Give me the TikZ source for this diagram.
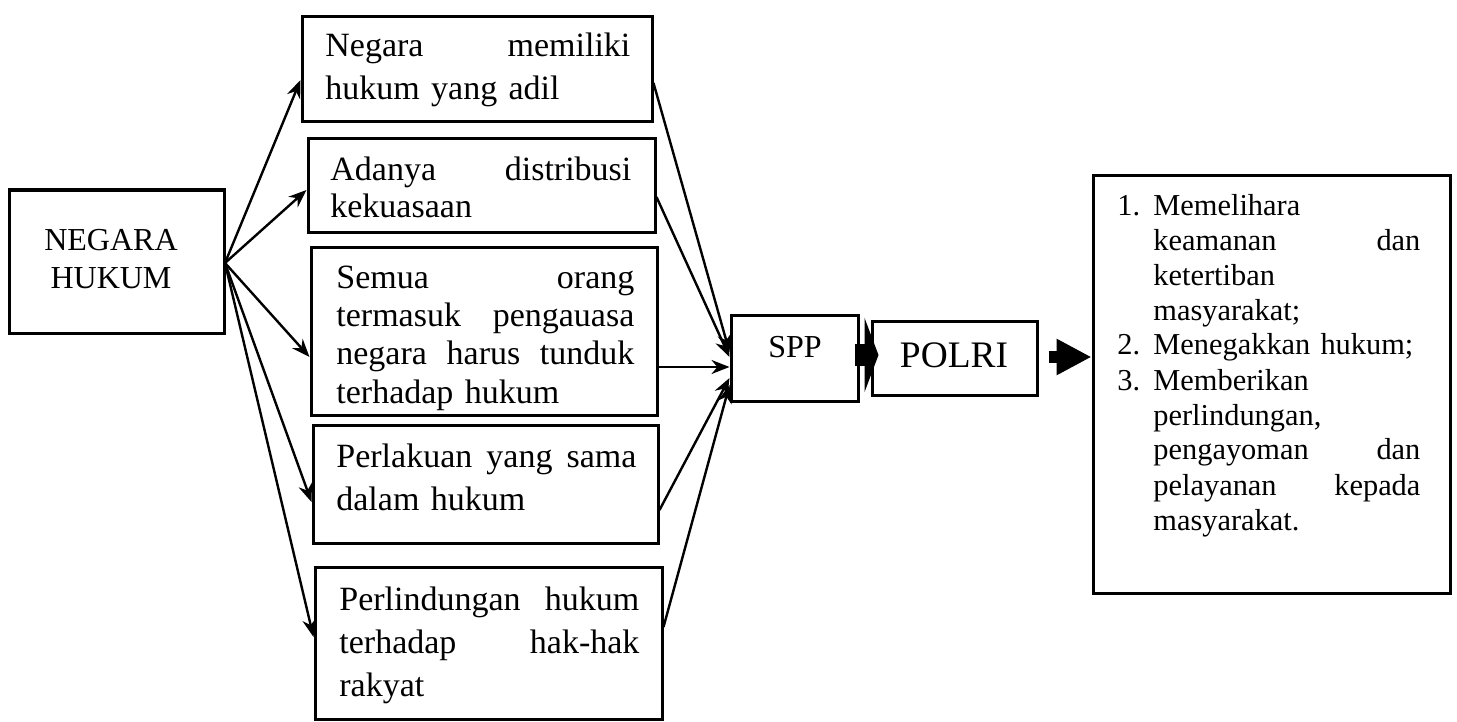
\documentclass[tikz,border=0pt]{standalone}
\usepackage{fontspec}
\setmainfont{Liberation Serif}
\usetikzlibrary{arrows.meta,fit,calc}
\begin{document}
\begin{tikzpicture}[x=0.5pt,y=-0.5pt,
  box/.style={draw, line width=1.5pt, inner sep=0pt, fit={#1}},
  txt/.style={inner sep=0pt, anchor=base west, align=left, font=\fontsize{17}{#1}\selectfont},
  lbl/.style={inner sep=0pt, anchor=base},
  conn/.style={line width=1.2pt, -{Stealth[length=9pt,width=7pt]}}]
\useasboundingbox[fill=white] (0,0) rectangle (1457,722);

% boxes
\node[box={(9,190)(224,333)}] (nh) {};
\node[box={(302,17)(652,122)}] (b1) {};
\node[box={(308,139)(655,232)}] (b2) {};
\node[box={(311,247)(657,415)}] (b3) {};
\node[box={(313,425)(658,543)}] (b4) {};
\node[box={(315,567)(662,719)}] (b5) {};
\node[box={(731,315)(858,401)}] (spp) {};
\node[box={(872,321)(1037,395)}] (polri) {};
\node[box={(1093,176)(1450,593)}] (rb) {};

% texts
\node[lbl, font=\fontsize{16}{19}\selectfont] (nht1) at (111,250) {NEGARA};
\node[lbl, font=\fontsize{16}{19}\selectfont] (nht2) at (111,288) {HUKUM};
\node[txt=21.5pt, text width=152.5pt] (t1) at (325,57) {Negara \hfill memiliki\\ hukum yang adil};
\node[txt=19pt, text width=150.5pt] (t2) at (330,180) {Adanya \hfill distribusi\\ kekuasaan};
\node[txt=19.2pt, text width=149pt] (t3) at (336,288) {Semua \hfill orang\\ termasuk \hfill pengauasa\\ negara \hfill harus \hfill tunduk\\ terhadap hukum};
\node[txt=21.5pt, text width=150pt] (t4) at (336,467) {Perlakuan \hfill yang \hfill sama\\ dalam hukum};
\node[txt=21.7pt, text width=150pt] (t5) at (339,610) {Perlindungan \hfill hukum\\ terhadap \hfill hak-hak\\ rakyat};
\node[lbl, font=\fontsize{16}{19}\selectfont] (sppt) at (795,357) {SPP};
\node[lbl, font=\fontsize{18.7}{22}\selectfont] (polrit) at (954,367) {POLRI};
\node[inner sep=0pt, anchor=base west, align=left, text width=151.5pt,
      font=\fontsize{15.2}{17.5}\selectfont] (rt) at (1117,215)
 {\makebox[18pt][l]{1.}Memelihara\\
  \hspace*{18pt}keamanan \hfill dan\\
  \hspace*{18pt}ketertiban\\
  \hspace*{18pt}masyarakat;\\
  \makebox[18pt][l]{2.}Menegakkan hukum;\\
  \makebox[18pt][l]{3.}Memberikan\\
  \hspace*{18pt}perlindungan,\\
  \hspace*{18pt}pengayoman \hfill dan\\
  \hspace*{18pt}pelayanan \hfill kepada\\
  \hspace*{18pt}masyarakat.};

% connectors from NEGARA HUKUM
\coordinate (o) at (225,263);
\draw[conn] (o) -- (b1.west |- 0,80);
\draw[conn] (o) -- (b2.west |- 0,190);
\draw[conn] (o) -- (b3.west |- 0,357);
\draw[conn] (o) -- (b4.west |- 0,502);
\draw[conn] (o) -- (b5.west |- 0,637);

% connectors to SPP
\draw[conn] (b1.east |- 0,83) -- (spp.west |- 0,352);
\draw[conn] (b2.east |- 0,197) -- (spp.west |- 0,357);
\draw[conn] (b3.east |- 0,367) -- (spp.west |- 0,367);
\draw[conn] (b4.east |- 0,510) -- (spp.west |- 0,378);
\draw[conn] (b5.east |- 0,627) -- (spp.west |- 0,385);

% fat arrows
\draw[line width=11pt, -{Triangle[length=7pt,width=37pt]}] ($(spp.east)+(-5,-3)$) -- ($(polri.west)+(8,-3)$);
\draw[line width=6pt, -{Triangle[length=17.5pt,width=17pt]}] ($(polri.east)+(10,-1)$) -- (rb.west |- 0,357);
\end{tikzpicture}
\end{document}
